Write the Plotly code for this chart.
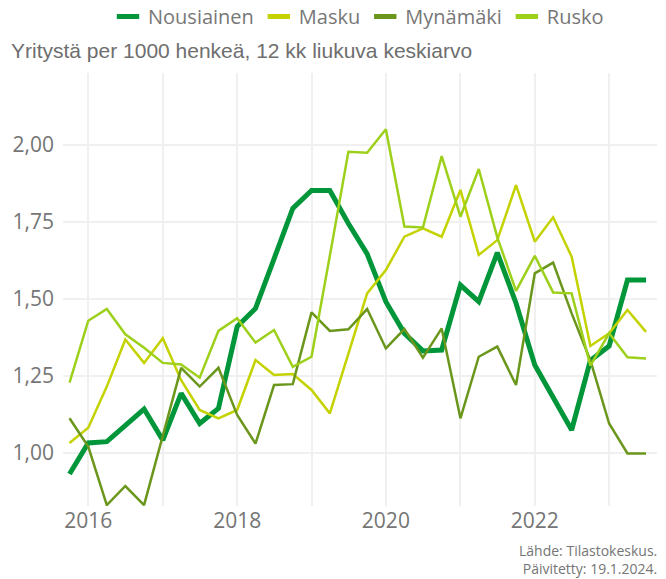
import plotly.graph_objects as go

quarters = [
    "2015-10-01", "2016-01-01", "2016-04-01", "2016-07-01", "2016-10-01",
    "2017-01-01", "2017-04-01", "2017-07-01", "2017-10-01",
    "2018-01-01", "2018-04-01", "2018-07-01", "2018-10-01",
    "2019-01-01", "2019-04-01", "2019-07-01", "2019-10-01",
    "2020-01-01", "2020-04-01", "2020-07-01", "2020-10-01",
    "2021-01-01", "2021-04-01", "2021-07-01", "2021-10-01",
    "2022-01-01", "2022-04-01", "2022-07-01", "2022-10-01",
    "2023-01-01", "2023-04-01", "2023-07-01",
]

nousiainen = [0.931, 1.032, 1.036, 1.090, 1.142, 1.041, 1.193, 1.095, 1.144,
              1.410, 1.469, 1.630, 1.794, 1.852, 1.852, 1.745, 1.646,
              1.491, 1.388, 1.331, 1.334, 1.545, 1.491, 1.650, 1.486,
              1.285, 1.182, 1.074, 1.300, 1.347, 1.561, 1.561]
masku = [1.032, 1.081, 1.215, 1.368, 1.292, 1.372, 1.236, 1.139, 1.112,
         1.139, 1.301, 1.253, 1.256, 1.204, 1.128, 1.323, 1.518,
         1.594, 1.702, 1.729, 1.702, 1.854, 1.643, 1.691, 1.870,
         1.686, 1.765, 1.637, 1.347, 1.388, 1.464, 1.393]
mynamaki = [1.112, 1.020, 0.830, 0.892, 0.830, 1.053, 1.276, 1.215, 1.276,
            1.123, 1.030, 1.220, 1.223, 1.456, 1.396, 1.401, 1.467,
            1.339, 1.402, 1.309, 1.404, 1.112, 1.312, 1.345, 1.220,
            1.583, 1.618, 1.453, 1.300, 1.095, 0.998, 0.998]
rusko = [1.228, 1.429, 1.467, 1.385, 1.341, 1.292, 1.287, 1.244, 1.396,
         1.437, 1.358, 1.399, 1.279, 1.312, 1.640, 1.978, 1.975,
         2.051, 1.735, 1.732, 1.964, 1.767, 1.922, 1.700, 1.526,
         1.640, 1.521, 1.518, 1.283, 1.388, 1.310, 1.306]

series_names = ["Nousiainen", "Masku", "Mynämäki", "Rusko"]
series_values = [nousiainen, masku, mynamaki, rusko]
series_colors = ["#009639", "#c4d200", "#6b961c", "#9dd01a"]
series_widths = [5, 2.5, 2.5, 2.5]

x_tick_vals = ["2016-01-01", "2017-01-01", "2018-01-01", "2019-01-01",
               "2020-01-01", "2021-01-01", "2022-01-01", "2023-01-01"]
x_tick_text = ["2016", "", "2018", "", "2020", "", "2022", ""]
y_tick_vals = [1.00, 1.25, 1.50, 1.75, 2.00]
y_tick_text = ["1,00", "1,25", "1,50", "1,75", "2,00"]

subtitle = "Yritystä per 1000 henkeä, 12 kk liukuva keskiarvo"
caption = "Lähde: Tilastokeskus.<br>Päivitetty: 19.1.2024."

fig = go.Figure()
for name, vals, col, w in zip(series_names, series_values, series_colors, series_widths):
    fig.add_trace(go.Scatter(x=quarters, y=vals, mode="lines", name=name,
                             line=dict(color=col, width=w), showlegend=False))
for name, col in zip(series_names, series_colors):
    fig.add_trace(go.Scatter(x=[None], y=[None], mode="markers", name=name,
                             marker=dict(symbol="line-ew", size=18,
                                         line=dict(width=5, color=col))))

grid = "#f0f0f0"
fig.update_layout(
    width=666, height=579, autosize=False,
    margin=dict(l=63, r=9, t=73, b=73),
    plot_bgcolor="white", paper_bgcolor="white",
    font=dict(family="Open Sans", color="#757575"),
    title=dict(text=subtitle, xref="container", x=11 / 666, xanchor="left",
               yref="container", y=1 - 51 / 579, yanchor="middle",
               pad=dict(l=0, r=0, t=0, b=0),
               font=dict(family="Liberation Sans", size=21, color="#6e6e6e")),
    legend=dict(orientation="h", xref="container", x=108 / 666, xanchor="left",
                yref="container", y=1 - 16.5 / 579, yanchor="middle",
                font=dict(family="Open Sans", size=20, color="#777777"),
                itemwidth=30, bgcolor="rgba(0,0,0,0)", borderwidth=0),
    xaxis=dict(type="date", range=["2015-08-30", "2023-08-24"],
               tickvals=x_tick_vals, ticktext=x_tick_text,
               showgrid=True, gridcolor=grid, gridwidth=1.5,
               zeroline=False, showline=False, ticks="",
               tickfont=dict(family="Open Sans", size=21, color="#757575")),
    yaxis=dict(range=[0.827, 2.234], tickvals=y_tick_vals, ticktext=y_tick_text,
               showgrid=True, gridcolor=grid, gridwidth=1.5,
               zeroline=False, showline=False, ticks="",
               ticklabelstandoff=8,
               tickfont=dict(family="Open Sans", size=21, color="#757575")),
    annotations=[dict(text=caption, xref="paper", yref="paper", x=1, y=-0.077,
                      xanchor="right", yanchor="top", align="right", xshift=2,
                      showarrow=False,
                      font=dict(family="Open Sans", size=14, color="#757575"))],
)

fig.write_html("out.html", config={"displayModeBar": False},
               post_script="document.body.style.margin='0';document.body.style.padding='0';")
